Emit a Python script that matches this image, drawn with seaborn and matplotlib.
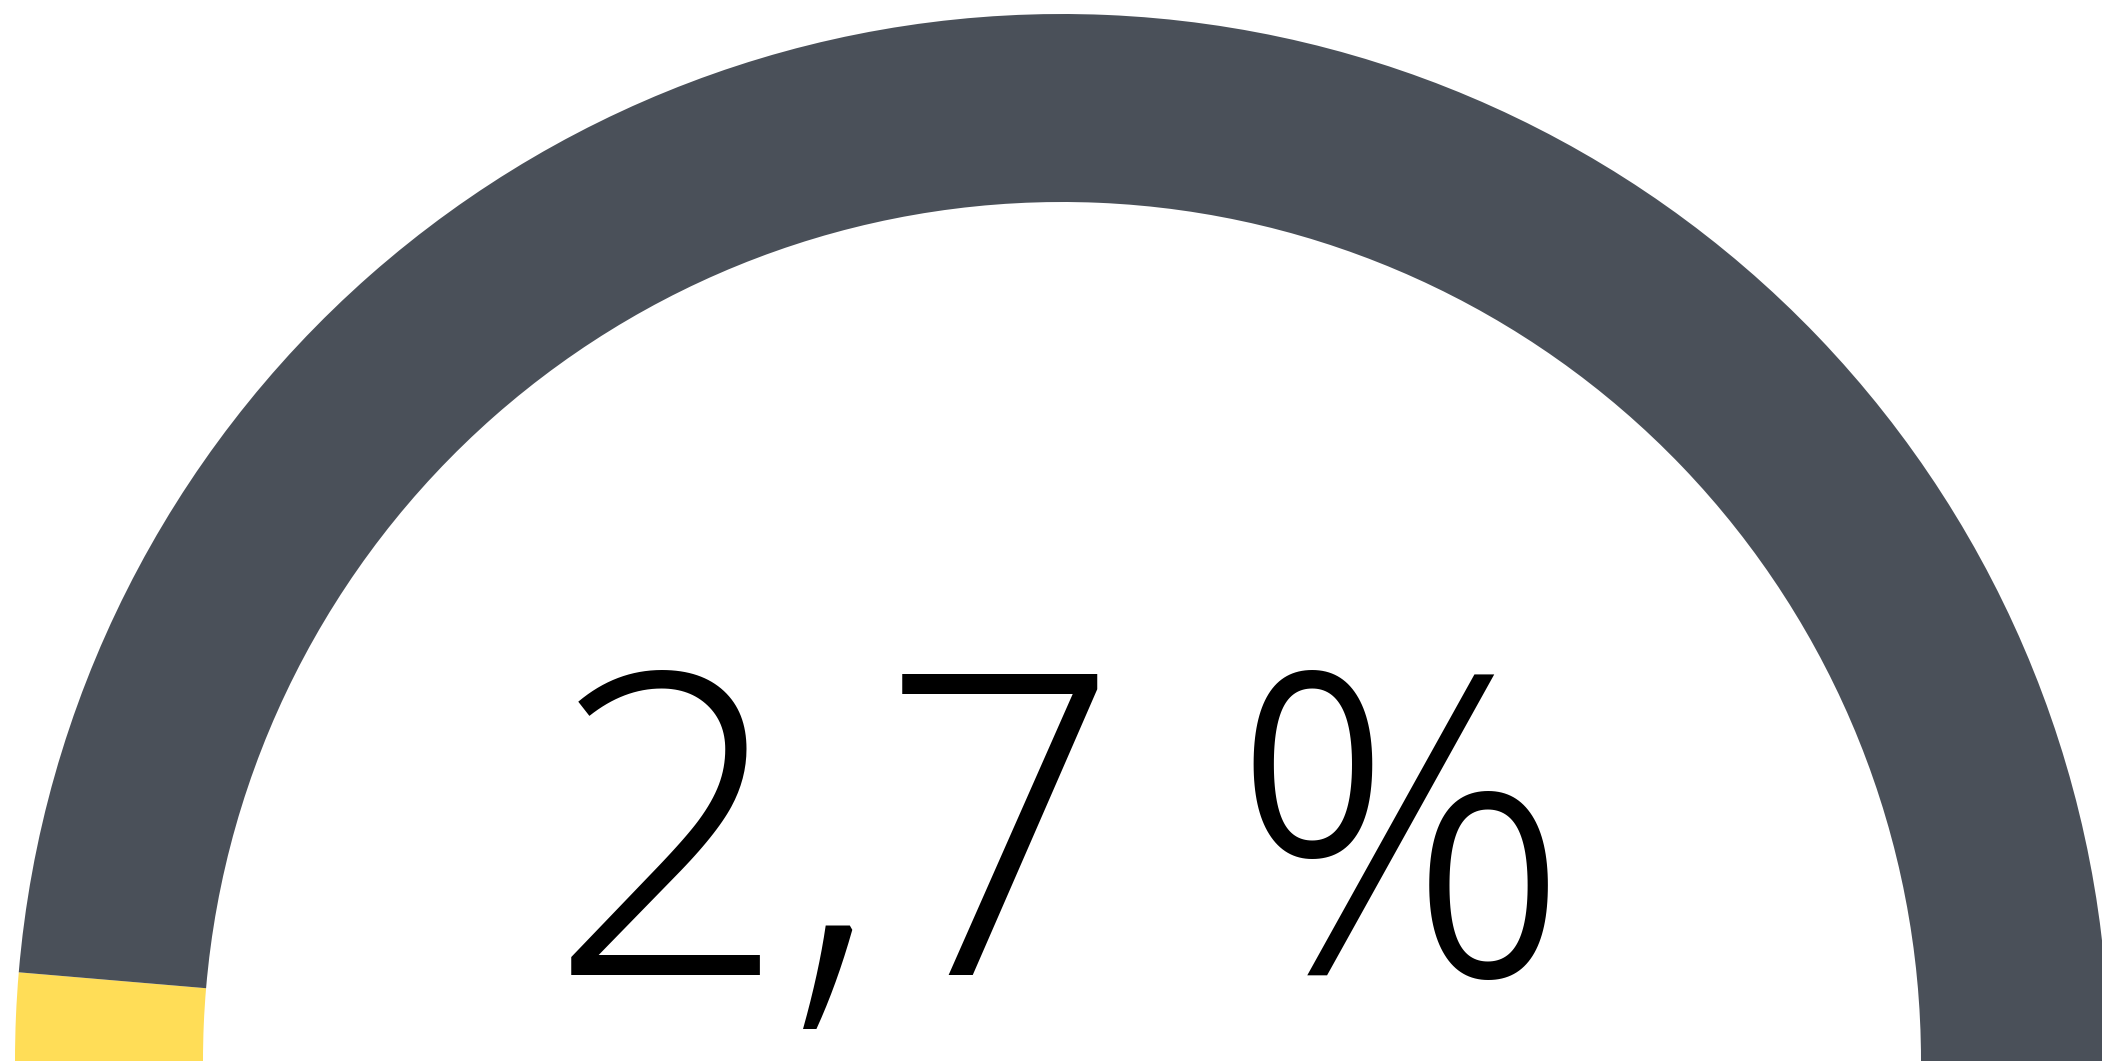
"""
Half-donut gauge showing a single percentage value.
"""

import matplotlib
matplotlib.use("Agg")
import matplotlib.pyplot as plt
import seaborn as sns

# ---- Data ----
gauge_value = 2.7          # percent shown on the gauge
gauge_max = 100.0
value_label = "2,7 %"

segment_values = [gauge_value, gauge_max - gauge_value, gauge_max]  # last one = hidden lower half
segment_colors = ["#FFDD57", "#4A5059", "none"]

# ---- Style ----
sns.set_theme(style="white")
plt.rcParams["font.family"] = ["Open Sans", "DejaVu Sans"]

W, H = 2102, 1061
fig = plt.figure(figsize=(W / 100, H / 100), dpi=100)
ax = fig.add_axes([0, 0, 1, 1])

# geometry in pixel units
cx, cy = 1062, 0
r_outer = 1047
ring = 188

ax.pie(
    segment_values,
    colors=segment_colors,
    startangle=180,
    counterclock=False,
    center=(cx, cy),
    radius=r_outer,
    wedgeprops=dict(width=ring, linewidth=0, edgecolor="none"),
    frame=True,
)

ax.text(cx - 2, H - 975, value_label, ha="center", va="baseline",
        fontsize=304, fontweight="light", color="black")

ax.set_xlim(0, W)
ax.set_ylim(0, H)
ax.set_aspect("equal")
ax.axis("off")

fig.savefig("out.png", dpi=100, facecolor="white")
plt.close(fig)
